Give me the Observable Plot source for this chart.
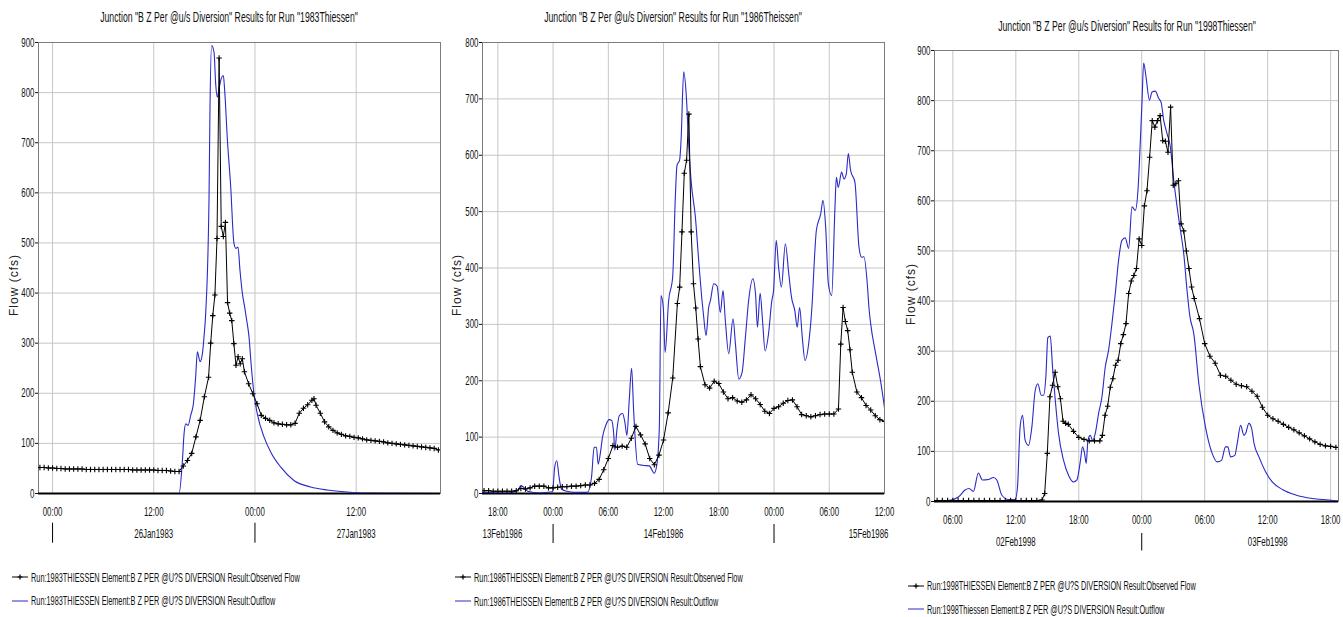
<!DOCTYPE html>
<html>
<head>
<meta charset="utf-8">
<script src="https://cdn.jsdelivr.net/npm/d3@7"></script>
<script src="https://cdn.jsdelivr.net/npm/@observablehq/plot@0.6"></script>
<style>
  html, body { margin: 0; padding: 0; background: #fff; }
  body { width: 1343px; height: 617px; overflow: hidden; position: relative; font-family: "Liberation Sans", Arial, sans-serif; color: #111; }
  .plotbox { position: absolute; top: 0; }
  .title { position: absolute; white-space: nowrap; font-size: 14.5px; transform: translate(-50%, -50%) scaleX(0.6); }
  .ylab { position: absolute; white-space: nowrap; font-size: 12px; letter-spacing: 1px; color: #222; transform: translate(-50%, -50%) rotate(-90deg); }
  .leg { position: absolute; display: flex; align-items: center; height: 14px; white-space: nowrap; }
  .leg svg { flex: none; margin-right: 3px; }
  .leg span { display: inline-block; font-size: 13px; transform: scaleX(0.565); transform-origin: 0 50%; }
</style>
</head>
<body>
<script>
// ---------- data (hours after the base midnight, flow in cfs) ----------
const yTicks1983 = [0, 100, 200, 300, 400, 500, 600, 700, 800, 900];
const yTicks1986 = [0, 100, 200, 300, 400, 500, 600, 700, 800];
const yTicks1998 = [0, 100, 200, 300, 400, 500, 600, 700, 800, 900];

const timeTicks1983 = [0, 12, 24, 36];
const timeTicks1986 = [-6, 0, 6, 12, 18, 24, 30, 36];
const timeTicks1998 = [6, 12, 18, 24, 30, 36, 42];

const midnights1983 = [0, 24];
const midnights1986 = [0, 24];
const midnights1998 = [24];

const dateLabels1983 = [[12, "middle"], [36, "middle"]];
const dateLabels1986 = [[-7.667, "start"], [12, "middle"], [36, "end"]];
const dateLabels1998 = [[12, "middle"], [36, "middle"]];

const observed1983 = [[-1.5,52],[-1,52],[-0.5,51],[0,51],[0.5,50],[1,50],[1.5,49],[2,49],[2.5,49],[3,49],[3.5,49],[4,48],[4.5,48],[5,48],[5.5,48],[6,48],[6.5,48],[7,48],[7.5,48],[8,48],[8.5,48],[9,48],[9.5,47],[10,47],[10.5,47],[11,47],[11.5,47],[12,47],[12.5,46],[13,46],[13.5,46],[14,45],[14.5,44],[15,44],[15.5,55],[16,66],[16.5,80],[17,113],[17.5,146],[18,193],[18.5,232],[18.75,300],[19,355],[19.25,396],[19.5,509],[19.75,869],[20,533],[20.25,513],[20.5,541],[20.75,381],[21,360],[21.25,345],[21.5,299],[21.75,256],[22,273],[22.25,259],[22.5,269],[22.75,243],[23.25,219],[23.75,199],[24.25,179],[24.75,156],[25.25,150],[25.75,146],[26.25,141],[26.75,139],[27.25,138],[27.75,137],[28.25,137],[28.75,140],[29.25,160],[29.75,170],[30.25,177],[30.75,186],[31,189],[31.25,176],[31.75,160],[32.25,143],[32.75,133],[33.25,126],[33.75,121],[34.25,118],[34.75,115],[35.25,114],[35.75,112],[36.25,111],[36.75,109],[37.25,107],[37.75,106],[38.25,105],[38.75,104],[39.25,103],[39.75,101],[40.25,100],[40.75,99],[41.25,98],[41.75,97],[42.25,96],[42.75,95],[43.25,94],[43.75,93],[44.25,92],[44.75,91],[45.25,90],[45.75,87]];

const outflow1983 = [[-1.667,0],[15.0,0],[15.4,66],[15.59,119],[15.79,139],[16.07,136],[16.38,156],[16.7,179],[16.97,233],[17.17,283],[17.49,263],[17.77,279],[17.96,313],[18.16,360],[18.55,586],[18.67,773],[18.87,894],[19.15,880],[19.34,818],[19.54,791],[19.74,808],[20.02,829],[20.25,834],[20.41,804],[20.73,706],[21.12,613],[21.51,499],[21.75,489],[21.99,492],[22.22,446],[22.51,399],[22.78,372],[22.98,350],[23.29,313],[23.57,253],[23.88,199],[24.28,159],[25.07,113],[25.86,83],[27.04,53],[28.62,26],[30.6,13],[32.57,7],[34.94,3],[37.3,1],[46,0]];

const observed1986 = [[-7.5,5],[-7,5],[-6.5,4],[-6,4],[-5.5,4],[-5,4],[-4.5,4],[-4,5],[-3.5,9],[-3,8],[-2.5,10],[-2,13],[-1.5,13],[-1,13],[-0.5,10],[0,10],[0.5,11],[1,12],[1.5,12],[2,13],[2.5,13],[3,14],[3.5,15],[4,15],[4.5,18],[5,25],[5.5,42],[6,62],[6.5,85],[7,82],[7.5,84],[8,82],[8.5,98],[9,119],[9.5,104],[10,88],[10.5,62],[11,51],[11.5,68],[12,95],[12.5,143],[13,205],[13.5,337],[13.75,366],[14,464],[14.25,568],[14.5,591],[14.75,673],[15,464],[15.25,372],[15.5,329],[15.75,274],[16,225],[16.5,193],[17,187],[17.5,199],[18,195],[18.5,180],[19,168],[19.5,170],[20,164],[20.5,162],[21,166],[21.5,175],[22,168],[22.5,158],[23,146],[23.5,142],[24,151],[24.5,154],[25,160],[25.5,165],[26,166],[26.5,154],[27,140],[27.5,138],[28,136],[28.5,138],[29,140],[29.5,141],[30,141],[30.5,141],[31,150],[31.25,265],[31.5,330],[31.75,305],[32,289],[32.25,255],[32.5,215],[33,180],[33.5,170],[34,156],[34.5,148],[35,138],[35.5,131],[36,128]];

const outflow1986 = [[-7.667,2],[-5,1],[-3.87,5],[-3.5,14],[-3.2,11],[-2.75,4],[-1.5,1],[-0.07,3],[0.18,47],[0.4,58],[0.66,28],[0.91,8],[1.5,4],[2.29,2],[3.73,2],[4.17,28],[4.46,82],[4.71,82],[4.9,52],[5.12,70],[5.37,100],[5.73,121],[6.1,131],[6.35,130],[6.57,109],[6.71,77],[6.93,112],[7.19,138],[7.55,142],[7.8,126],[8.02,103],[8.27,165],[8.53,222],[8.75,147],[9.18,52],[9.72,50],[10.45,49],[10.99,36],[11.28,52],[11.54,117],[11.72,351],[11.97,330],[12.17,250],[12.55,342],[12.99,384],[13.28,526],[13.46,582],[13.75,592],[13.9,626],[14.19,748],[14.48,703],[14.73,620],[14.99,555],[15.46,490],[15.82,413],[16.18,342],[16.36,313],[16.62,280],[16.9,330],[17.09,342],[17.45,372],[17.81,368],[18.17,321],[18.46,360],[18.71,307],[19.08,248],[19.55,310],[19.81,265],[20.17,203],[20.53,215],[20.89,277],[21.26,345],[21.7,381],[21.99,354],[22.2,295],[22.49,355],[22.75,307],[23.03,253],[23.4,283],[23.76,342],[23.95,360],[24.24,449],[24.5,401],[24.8,366],[25.23,443],[25.6,390],[25.9,348],[26.26,324],[26.52,295],[26.78,330],[27.07,277],[27.36,236],[27.8,271],[28.16,342],[28.34,401],[28.6,467],[29.07,496],[29.32,520],[29.61,472],[29.9,372],[30.26,351],[30.62,508],[30.77,561],[30.98,543],[31.34,570],[31.6,558],[31.85,567],[32.07,603],[32.32,573],[32.79,552],[33.23,437],[33.52,419],[33.77,420],[34.13,372],[34.31,330],[34.5,301],[35.04,248],[35.59,198],[36,152]];

const observed1998 = [[4.5,2],[5,2],[5.5,2],[6,2],[6.5,2],[7,2],[7.5,2],[8,2],[8.5,2],[9,2],[9.5,2],[10,2],[10.5,2],[11,2],[11.5,2],[12,2],[12.5,2],[13,2],[13.5,2],[14,2],[14.5,3],[14.75,16],[15,96],[15.25,209],[15.5,232],[15.75,258],[16,229],[16.25,205],[16.5,160],[16.75,156],[17,154],[17.5,140],[18,128],[18.5,124],[19,121],[19.5,121],[20,121],[20.25,132],[20.5,172],[20.75,190],[21,228],[21.25,245],[21.5,272],[21.75,282],[22,315],[22.25,333],[22.5,355],[22.75,415],[23,440],[23.25,451],[23.5,465],[23.75,524],[24,511],[24.25,590],[24.5,620],[24.75,687],[25,760],[25.25,747],[25.5,760],[25.75,770],[26,720],[26.25,719],[26.5,697],[26.75,787],[27,631],[27.25,634],[27.5,640],[27.75,554],[28,540],[28.25,500],[28.5,465],[28.75,428],[29,405],[29.5,365],[30,315],[30.5,290],[31,276],[31.5,252],[32,250],[32.5,242],[33,234],[33.5,231],[34,229],[34.5,220],[35,210],[35.5,188],[36,172],[36.5,165],[37,160],[37.5,154],[38,148],[38.5,143],[39,137],[39.5,131],[40,125],[40.5,119],[41,114],[41.5,111],[42,110],[42.5,108]];

const outflow1998 = [[4.28,1],[5.57,2],[6.53,9],[7.16,23],[7.54,26],[7.96,20],[8.43,57],[8.82,43],[9.39,44],[9.87,48],[10.19,43],[10.66,13],[11.3,4],[11.94,4],[12.16,29],[12.41,149],[12.64,172],[12.89,122],[13.21,112],[13.53,149],[13.85,222],[14.1,235],[14.42,212],[14.64,212],[14.86,248],[15.05,327],[15.28,330],[15.5,268],[15.76,202],[16.07,136],[16.55,82],[17.03,52],[17.5,39],[17.82,43],[18.14,79],[18.36,109],[18.55,96],[18.71,76],[18.87,122],[19.09,132],[19.32,122],[19.57,136],[19.89,176],[20.21,209],[20.52,268],[20.84,302],[21.16,355],[21.48,415],[21.79,481],[22.11,521],[22.43,526],[22.75,505],[23.07,588],[23.39,581],[23.64,621],[23.87,721],[24.03,801],[24.18,875],[24.41,847],[24.73,801],[24.98,817],[25.3,819],[25.62,804],[25.84,797],[26.1,760],[26.41,734],[26.73,707],[27.05,641],[27.37,588],[27.69,541],[28.0,495],[28.32,420],[28.6,368],[28.96,335],[29.44,235],[30.07,149],[30.71,96],[31.19,79],[31.6,82],[31.98,109],[32.2,109],[32.46,89],[32.87,92],[33.1,116],[33.42,152],[33.74,132],[33.9,136],[34.21,156],[34.47,146],[34.7,116],[35.17,89],[35.81,59],[36.44,39],[37.4,24],[38.67,13],[40.25,6],[41.84,3],[42.74,1]];

const titles = [
  'Junction "B Z Per @u/s Diversion" Results for Run "1983Thiessen"',
  'Junction "B Z Per @u/s Diversion" Results for Run "1986Theissen"',
  'Junction "B Z Per @u/s Diversion" Results for Run "1998Thiessen"'
];
const legends = [
  ["Run:1983THIESSEN Element:B Z PER @U?S DIVERSION Result:Observed Flow", "Run:1983THIESSEN Element:B Z PER @U?S DIVERSION Result:Outflow"],
  ["Run:1986THEISSEN Element:B Z PER @U?S DIVERSION Result:Observed Flow", "Run:1986THEISSEN Element:B Z PER @U?S DIVERSION Result:Outflow"],
  ["Run:1998THIESSEN Element:B Z PER @U?S DIVERSION Result:Observed Flow", "Run:1998Thiessen Element:B Z PER @U?S DIVERSION Result:Outflow"]
];
const yLabel = "Flow (cfs)";

// ---------- layout ----------
const BLUE = "#2a2ac6";
const panels = [
  { left: 0, width: 445, height: 560, margins: [42, 5, 67, 38], base: "1983-01-26T00:00:00Z", domainHours: [-1.667, 46],
    yTicks: yTicks1983, timeTicks: timeTicks1983, midnights: midnights1983, dateLabels: dateLabels1983,
    observed: observed1983, outflow: outflow1983, title: titles[0], legend: legends[0],
    titlePos: [229, 17], yLabelPos: [14, 285], legendPos: [12, 577, 600.7], timePad: 13.7, datePad: 35.3, midTick: [29.7, 20] },
  { left: 440, width: 448, height: 560, margins: [42, 4, 67, 42], base: "1986-02-14T00:00:00Z", domainHours: [-7.667, 36],
    yTicks: yTicks1986, timeTicks: timeTicks1986, midnights: midnights1986, dateLabels: dateLabels1986,
    observed: observed1986, outflow: outflow1986, title: titles[1], legend: legends[1],
    titlePos: [673, 17], yLabelPos: [457, 285], legendPos: [455, 577, 601], timePad: 14, datePad: 35.6, midTick: [31, 19] },
  { left: 895, width: 448, height: 570, margins: [50, 5, 69, 39], base: "1998-02-02T00:00:00Z", domainHours: [4.25, 42.75],
    yTicks: yTicks1998, timeTicks: timeTicks1998, midnights: midnights1998, dateLabels: dateLabels1998,
    observed: observed1998, outflow: outflow1998, title: titles[2], legend: legends[2],
    titlePos: [1127, 26], yLabelPos: [911, 294], legendPos: [908, 585.7, 609.3], timePad: 13.7, datePad: 35.4, midTick: [32, 17.5] }
];

const fmtTime = d3.utcFormat("%H:%M");
const fmtDay = d3.utcFormat("%d%b%Y");
const at = (base, h) => new Date(Date.parse(base) + h * 3600000);

function squeezeText(svg, s) {
  svg.querySelectorAll("text").forEach(t => {
    let tr = t.getAttribute("transform") || "";
    const x = t.getAttribute("x");
    if (x != null && !/em/.test(x)) { t.removeAttribute("x"); tr += ` translate(${x},0)`; }
    t.setAttribute("transform", `${tr} scale(${s},1)`);
  });
}

function addDiv(cls, html, style) {
  const d = document.createElement("div");
  d.className = cls;
  d.innerHTML = html;
  Object.assign(d.style, style);
  document.body.appendChild(d);
  return d;
}

panels.forEach(p => {
  const [mt, mr, mb, ml] = p.margins;
  const obs = p.observed.map(([h, v]) => ({date: at(p.base, h), flow: v}));
  const out = p.outflow.map(([h, v]) => ({date: at(p.base, h), flow: v}));
  const ticks = p.timeTicks.map(h => at(p.base, h));
  const mids = p.midnights.map(h => at(p.base, h));

  const marks = [
    Plot.gridY(p.yTicks, {stroke: "#c6c6c6", strokeOpacity: 1}),
    Plot.gridX(ticks, {stroke: "#c6c6c6", strokeOpacity: 1}),
    Plot.frame({stroke: "#7c7c7c"}),
    Plot.ruleY([0], {stroke: "#000", strokeWidth: 2}),
    Plot.line(out, {x: "date", y: "flow", stroke: BLUE, strokeWidth: 1.1, curve: "monotone-x", clip: true}),
    Plot.line(obs, {x: "date", y: "flow", stroke: "#000", strokeWidth: 1, clip: true}),
    Plot.dot(obs, {x: "date", y: "flow", symbol: "plus", r: 1.9, stroke: "#000", strokeWidth: 1.1, clip: true}),
    Plot.axisY(p.yTicks, {tickSize: 3, tickPadding: 1, label: null}),
    Plot.axisX(ticks, {tickSize: 0, tickPadding: p.timePad, tickFormat: fmtTime, label: null}),
    Plot.axisX(mids, {tickSize: p.midTick[1], dy: p.midTick[0], tickFormat: () => "", label: null, stroke: "#000"}),
    ...p.dateLabels.map(([h, anchor]) => Plot.text([at(p.base, h)], {
      x: d => d, text: d => fmtDay(d), frameAnchor: "bottom", lineAnchor: "top",
      textAnchor: anchor, dy: p.datePad, dx: anchor === "end" ? 4 : 0
    }))
  ];

  const svg = Plot.plot({
    width: p.width, height: p.height,
    marginTop: mt, marginRight: mr, marginBottom: mb, marginLeft: ml,
    x: {type: "utc", domain: p.domainHours.map(h => at(p.base, h))},
    y: {domain: [0, p.yTicks[p.yTicks.length - 1]]},
    style: {fontFamily: "'Liberation Sans', Arial, sans-serif", fontSize: "12.5px", color: "#111", background: "transparent", overflow: "visible"},
    marks
  });
  squeezeText(svg, 0.63);
  const box = document.createElement("div");
  box.className = "plotbox";
  box.style.left = p.left + "px";
  box.appendChild(svg);
  document.body.appendChild(box);

  addDiv("title", p.title.replace(/&/g, "&amp;").replace(/</g, "&lt;"), {left: p.titlePos[0] + "px", top: p.titlePos[1] + "px"});
  addDiv("ylab", yLabel, {left: p.yLabelPos[0] + "px", top: p.yLabelPos[1] + "px"});

  const obsSwatch = `<svg width="16" height="10"><line x1="0" y1="5" x2="16" y2="5" stroke="#000"/><path d="M8,2.5V7.5M5.5,5H10.5" stroke="#000" stroke-width="1.2"/></svg>`;
  const outSwatch = `<svg width="16" height="10"><line x1="0" y1="5" x2="16" y2="5" stroke="${BLUE}"/></svg>`;
  addDiv("leg", obsSwatch + `<span>${p.legend[0]}</span>`, {left: p.legendPos[0] + "px", top: (p.legendPos[1] - 7) + "px"});
  addDiv("leg", outSwatch + `<span>${p.legend[1]}</span>`, {left: p.legendPos[0] + "px", top: (p.legendPos[2] - 7) + "px"});
});
</script>
</body>
</html>
